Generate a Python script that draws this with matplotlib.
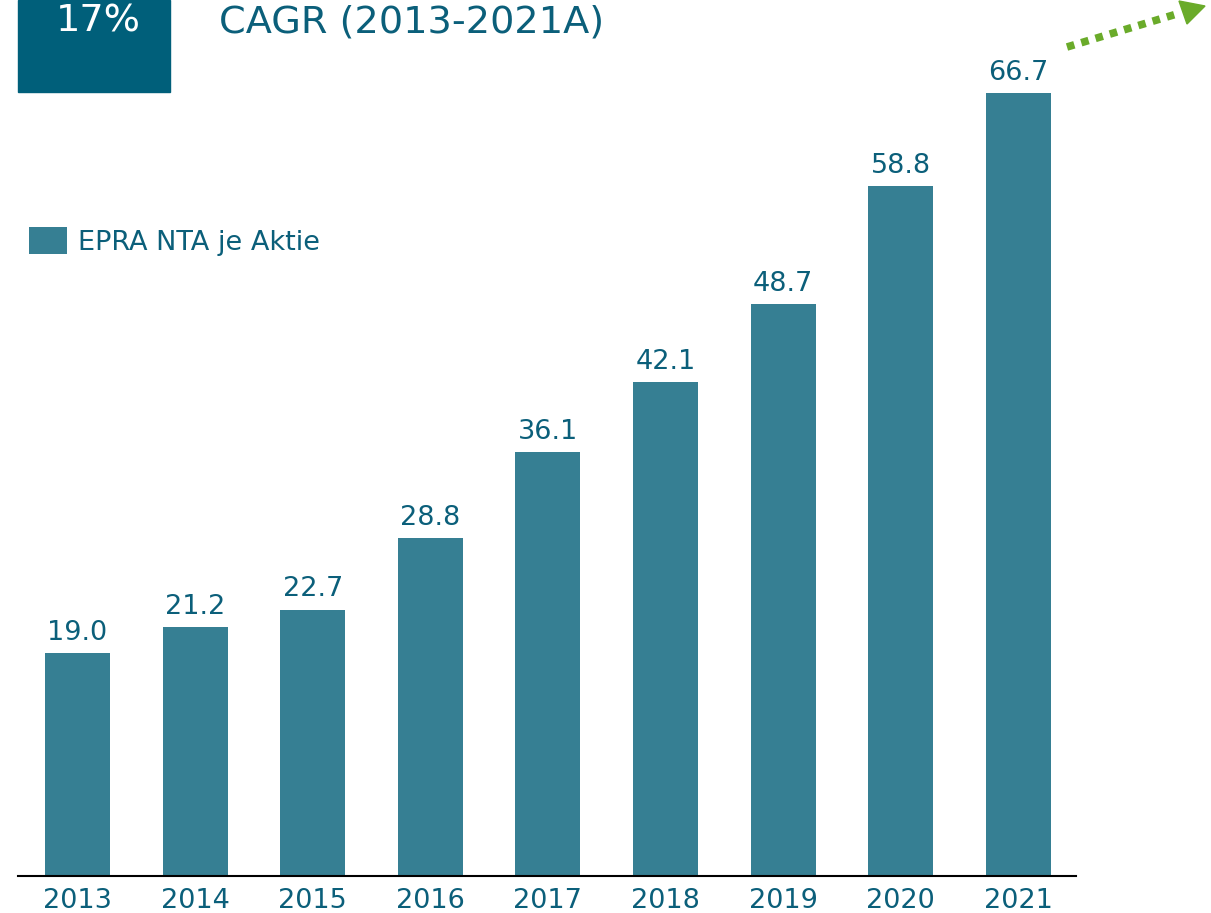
import matplotlib.pyplot as plt
from matplotlib.patches import Rectangle
from matplotlib.lines import Line2D

years = ['2013', '2014', '2015', '2016', '2017', '2018', '2019', '2020', '2021']
values = [19.0, 21.2, 22.7, 28.8, 36.1, 42.1, 48.7, 58.8, 66.7]
series_name = 'EPRA NTA je Aktie'

bar_color = '#367f93'
text_color = '#0b5f7a'
box_color = '#005f7a'
arrow_color = '#6aab2a'

plt.rcParams['font.family'] = ['DejaVu Sans']

W, H = 1211, 913
fig = plt.figure(figsize=(W / 100, H / 100), dpi=100)
ax = fig.add_axes([18 / W, (H - 876) / H, (1076 - 18) / W, 876 / H])

x = range(len(years))
bars = ax.bar(x, values, width=0.553, color=bar_color, label=series_name, zorder=2)
ax.set_xlim(-0.506, 8.49)
ax.set_ylim(0, 876 / 11.74)

for rect, v in zip(bars, values):
    ax.text(rect.get_x() + rect.get_width() / 2, v + 0.6, f'{v:.1f}',
            ha='center', va='bottom', fontsize=19.5, color=text_color)

for s in ['top', 'right', 'left']:
    ax.spines[s].set_visible(False)
ax.spines['bottom'].set_linewidth(1.5)
ax.spines['bottom'].set_color('black')
ax.set_yticks([])
ax.set_xticks(list(x))
ax.set_xticklabels(years, fontsize=19.5, color=text_color)
ax.tick_params(axis='x', length=0, pad=8.5)

leg = ax.legend(loc='upper left', bbox_to_anchor=(11 / 1058, (876 - 227) / 876), frameon=False,
                fontsize=19.5, handlelength=1.4, handleheight=1.18, handletextpad=0.4,
                borderaxespad=0, borderpad=0)
for t in leg.get_texts():
    t.set_color(text_color)

# header box and CAGR text
fig.patches.append(Rectangle((18 / W, (H - 92) / H), 152 / W, 92 / H,
                             transform=fig.transFigure, color=box_color))
fig.text(98 / W, (H - 22) / H, '17%', ha='center', va='center', fontsize=27.5, color='white')
fig.text(219 / W, (H - 22) / H, 'CAGR (2013-2021A)', ha='left', va='center',
         fontsize=27.5, color=text_color)

# green dotted arrow
fig.lines.append(Line2D([1067 / W, 1180 / W], [(H - 47) / H, (H - 13) / H],
                        transform=fig.transFigure, color=arrow_color, lw=5.5,
                        linestyle=(0, (1.0, 0.95))))
fig.patches.append(plt.Polygon([(1205 / W, (H - 6) / H), (1179 / W, (H - 1) / H),
                                (1187 / W, (H - 24) / H)], closed=True,
                               transform=fig.transFigure, color=arrow_color))

fig.savefig('out.png', dpi=100)
